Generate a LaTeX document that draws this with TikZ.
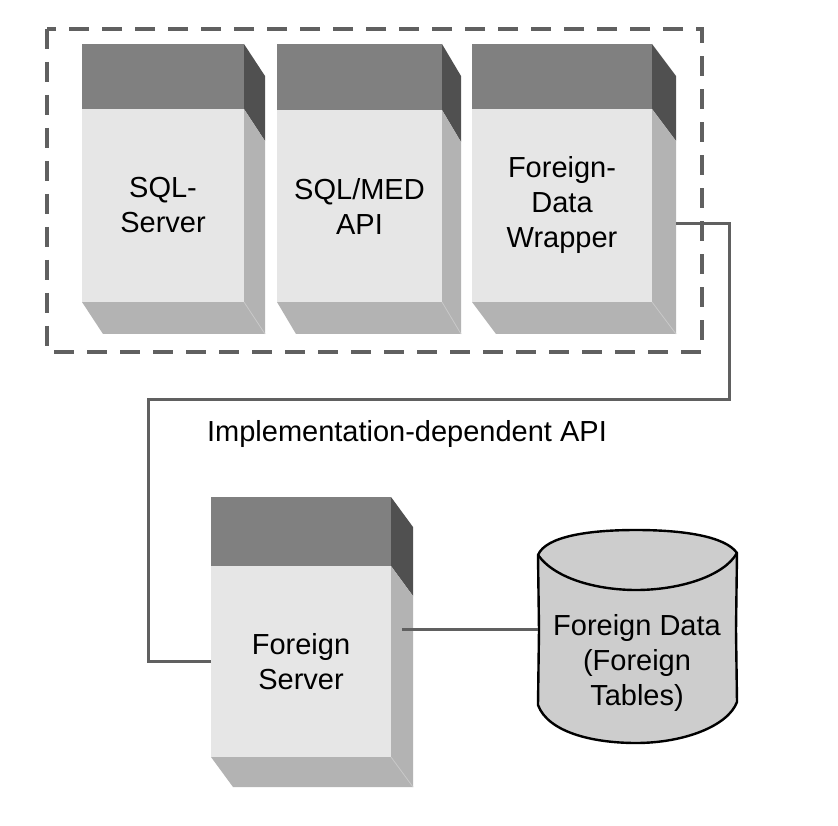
\documentclass[tikz,border=0pt]{standalone}
\usepackage{fontspec}
\setmainfont{Liberation Sans}
\usetikzlibrary{calc}
\definecolor{cband}{HTML}{808080}
\definecolor{cdark}{HTML}{505050}
\definecolor{cfront}{HTML}{E6E6E6}
\definecolor{cside}{HTML}{B3B3B3}
\definecolor{cedge}{HTML}{C8C8C8}
\definecolor{cline}{HTML}{606060}
\definecolor{cdb}{HTML}{CDCDCD}
\tikzset{
  front/.style={fill=cfront, inner sep=0pt, outer sep=0pt, align=center, text=black,
    font=\fontsize{29}{35}\selectfont},
  edgeline/.style={draw=cedge, line width=0.8pt},
  conn/.style={draw=cline, line width=3pt},
  group/.style={draw=cline, line width=3.2pt, dash pattern=on 20pt off 13pt},
  dbshape/.style={fill=cdb, draw=black, line width=2.4pt, line join=round},
  label/.style={font=\fontsize{29}{35}\selectfont, inner sep=0pt, align=center, text=black}
}
% #1 name #2 x #3 y #4 w #5 h #6 band #7 dx #8 dy #9 text
\newcommand\srvbox[9]{%
  \fill[cband] (#2,#3) rectangle ({#2+#4},{#3+#6});
  \fill[cdark] ({#2+#4},#3) -- ({#2+#4+#7},{#3+#8}) -- ({#2+#4+#7},{#3+#6+#8}) -- ({#2+#4},{#3+#6}) -- cycle;
  \fill[cside] ({#2+#4},{#3+#6}) -- ({#2+#4+#7},{#3+#6+#8}) -- ({#2+#4+#7},{#3+#5+#8}) -- ({#2+#4},{#3+#5}) -- cycle;
  \fill[cside] (#2,{#3+#5}) -- ({#2+#4},{#3+#5}) -- ({#2+#4+#7},{#3+#5+#8}) -- ({#2+#7},{#3+#5+#8}) -- cycle;
  \draw[edgeline] ({#2+#4},{#3+#5}) -- ({#2+#4+#7},{#3+#5+#8});
  \node[front, minimum width=#4pt, minimum height={(#5-#6)*1pt}, anchor=north west] (#1) at (#2,{#3+#6}) {#9};
}
\begin{document}
\begin{tikzpicture}[x=1pt,y=-1pt]
\useasboundingbox (0,0) rectangle (838,826);
\fill[white] (0,0) rectangle (838,826);

% group frame
\draw[group] (47,29) rectangle (702,352);

% boxes
\srvbox{sql}{82}{44}{162}{258}{65}{21}{32}{SQL-\\Server}
\srvbox{med}{277}{44}{165}{258}{66}{19}{32}{SQL/MED\\API}
\srvbox{fdw}{472}{44}{180}{258}{65}{24}{32}{Foreign-\\Data\\Wrapper}
\srvbox{fs}{211}{497}{180}{260}{69}{22}{30}{Foreign\\Server}

% database cylinder
\path[dbshape] (538,555) -- (539,630) -- (538,705)
  .. controls (548,732) and (592,743) .. (636,743)
  .. controls (684,743) and (728,726) .. (737,702)
  -- (736,630) -- (737,553)
  .. controls (725,536) and (682,530) .. (636,530)
  .. controls (590,530) and (546,536) .. (538,555) -- cycle;
\draw[black, line width=2.4pt, line join=round] (538,555)
  .. controls (556,580) and (600,590) .. (636,590)
  .. controls (680,590) and (724,576) .. (737,553);
\node[label] (db) at (637,663) {Foreign Data\\(Foreign\\Tables)};

% connectors
\coordinate (fdwport) at (676,224);
\coordinate (fsport) at (402,629);
\coordinate (dbport) at (538,629);
\draw[conn] (fdwport) -- (729,224) -- (729,399) -- (148,399) |- (fs.west);
\draw[conn] (fsport) -- (dbport);

\node[label, anchor=base] (api) at (407,441) {Implementation-dependent API};
\end{tikzpicture}
\end{document}
